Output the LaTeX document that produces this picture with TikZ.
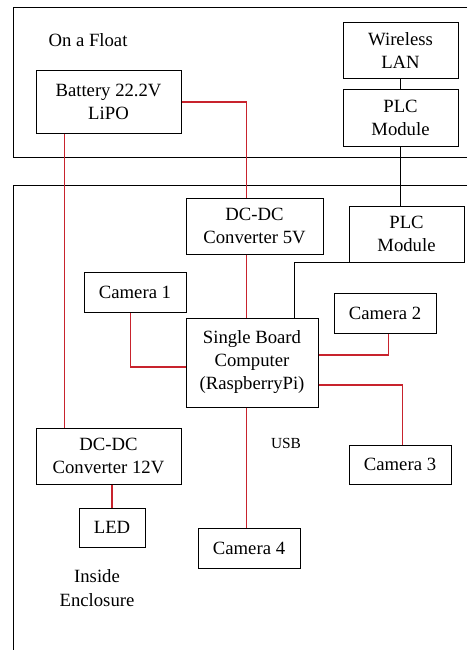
\documentclass[tikz,border=0pt]{standalone}
\usepackage{fontspec}
\setmainfont{Liberation Serif}
\usetikzlibrary{positioning,calc}
\definecolor{wirered}{RGB}{200,35,45}

\begin{document}
\begin{tikzpicture}[x=1pt, y=-1pt,
    blk/.style={draw, line width=1pt, align=center, inner sep=0pt, font=\fontsize{18.7}{23}\selectfont},
    lbl/.style={align=center, inner sep=0pt, font=\fontsize{18.7}{24.5}\selectfont},
    pwr/.style={draw=wirered, line width=1.1pt},
    dat/.style={draw=black, line width=1pt}
]
\useasboundingbox (0,0) rectangle (467,650);
\draw[line width=1pt] (467,8) -- (13,8) -- (13,157) -- (467,157);
\draw[line width=1pt] (467,185) -- (13,185) -- (13,650);

\node[lbl] (float) at (88,40) {On a Float};
\node[blk, minimum width=145, minimum height=62] (bat) at (108.5,102) {Battery 22.2V\\LiPO};
\node[blk, minimum width=115, minimum height=56] (wlan) at (400.5,51) {Wireless\\LAN};
\node[blk, minimum width=115, minimum height=56] (plcA) at (400.5,118) {PLC\\Module};
\node[blk, minimum width=137, minimum height=56] (dc5) at (254.5,226) {DC-DC\\Converter 5V};
\node[blk, minimum width=115, minimum height=56] (plcB) at (406.5,234) {PLC\\Module};
\node[blk, minimum width=102, minimum height=40] (cam1) at (135,292) {Camera 1};
\node[blk, minimum width=102, minimum height=40] (cam2) at (385,313) {Camera 2};
\node[blk, minimum width=132, minimum height=89] (sbc) at (252,362.5) {Single Board\\Computer\\(RaspberryPi)};
\node[blk, minimum width=145, minimum height=56] (dc12) at (108.5,456) {DC-DC\\Converter 12V};
\node[blk, minimum width=66, minimum height=39] (led) at (112,527.5) {LED};
\node[blk, minimum width=102, minimum height=39] (cam3) at (400,464.5) {Camera 3};
\node[blk, minimum width=102, minimum height=40] (cam4) at (249,548) {Camera 4};
\node[lbl, font=\fontsize{15.4}{18}\selectfont] (usb) at (286,443) {USB};
\node[lbl] (inside) at (97,588) {Inside\\Enclosure};

\draw[dat] (wlan) -- (plcA);
\draw[dat] (plcA.south) -- (plcA.south |- plcB.north);
\draw[dat] (plcB.south west) -| ([xshift=42.5pt]sbc.north);

\draw[pwr] (bat.east) -| ([xshift=-8pt]dc5.north);
\draw[pwr] ([xshift=-44pt]bat.south) -- ([xshift=-44pt]dc12.north);
\draw[pwr] ([xshift=-8pt]dc5.south) -- ([xshift=-5.5pt]sbc.north);
\draw[pwr] ([xshift=-4.5pt]cam1.south) |- ([yshift=-4.5pt]sbc.west);
\draw[pwr] ([xshift=3.5pt]cam2.south) |- ([yshift=7.5pt]sbc.east);
\draw[pwr] ([yshift=-22.5pt]sbc.east) -| ([xshift=2.5pt]cam3.north);
\draw[pwr] ([xshift=-5.5pt]sbc.south) -- ([xshift=-2.5pt]cam4.north);
\draw[pwr] (led.north |- dc12.south) -- (led.north);
\end{tikzpicture}
\end{document}
